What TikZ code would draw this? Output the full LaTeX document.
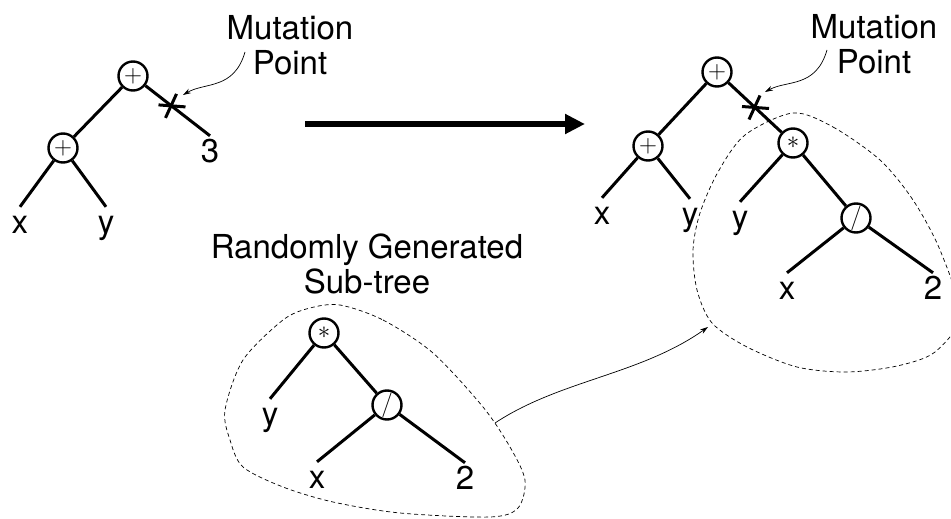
\documentclass[tikz,border=0pt]{standalone}
\usepackage{fontspec}
\setmainfont{TeX Gyre Heros}
\usetikzlibrary{arrows.meta,calc}

\tikzset{
  op/.style={circle,draw,line width=2.4pt,minimum size=29pt,inner sep=0pt,
    font=\fontsize{25}{25}\selectfont},
  leaf/.style={anchor=base,inner sep=0pt,text height=26pt,text depth=0pt},
  edge/.style={line width=3pt},
  blob/.style={line width=0.7pt,dash pattern=on 4pt off 3pt},
  pointer/.style={line width=0.7pt,-{Stealth[length=8pt,width=5pt]}},
}

\begin{document}
\begin{tikzpicture}[x=1pt,y=-1pt,font=\fontsize{33}{35}\selectfont]
  \useasboundingbox (0,0) rectangle (951,519);
  % tree before the mutation
  \node[op] (lroot) at (133,76) {$+$};
  \node[op] (lplus) at (63,148) {$+$};
  \node[leaf] (lx) at (20,233) {x};
  \node[leaf] (ly) at (106,233) {y};
  \node[leaf] (lthree) at (210,162) {3};
  \draw[edge] (lroot) -- (lplus);
  \draw[edge] (lroot) -- (lthree.north);
  \draw[edge] (lplus) -- (lx.north);
  \draw[edge] (lplus) -- (ly.north);
  \coordinate (lcut) at ($(lroot)!0.5!(lthree.north)$);
  \draw[edge] ($(lcut)+(-13,-1)$) -- ($(lcut)+(14,1)$);
  \draw[edge] ($(lcut)+(-6,12)$) -- ($(lcut)+(5,-12)$);
  \node[align=center] (lmut) at (290,45) {Mutation\\Point};
  \coordinate (lmutfrom) at (245,52);
  \coordinate (lmutto) at (183,95);
  \draw[pointer] (lmutfrom) .. controls (234,90) and (205,82) .. (lmutto);

  % mutation arrow
  \coordinate (mfrom) at (305,124);
  \coordinate (mto) at (585,124);
  \draw[line width=6.5pt,-{Triangle[length=20pt,width=19pt]}] (mfrom) -- (mto);

  % tree after the mutation
  \node[op] (rroot) at (717,72) {$+$};
  \node[op] (rplus) at (648,146) {$+$};
  \node[leaf] (rx) at (602,224) {x};
  \node[leaf] (ry) at (690,225) {y};
  \node[op] (rmul) at (793,143) {$\ast$};
  \node[leaf] (ry2) at (740,228) {y};
  \node[op] (rdiv) at (856,218) {$/$};
  \node[leaf] (rx2) at (787,299) {x};
  \node[leaf] (rtwo) at (933,299) {2};
  \draw[edge] (rroot) -- (rplus);
  \draw[edge] (rroot) -- (rmul);
  \draw[edge] (rplus) -- (rx.north);
  \draw[edge] (rplus) -- (ry.north);
  \draw[edge] (rmul) -- (ry2.north);
  \draw[edge] (rmul) -- (rdiv);
  \draw[edge] (rdiv) -- (rx2.north);
  \draw[edge] (rdiv) -- (rtwo.north);
  \coordinate (rcut) at ($(rroot)!0.5!(rmul)$);
  \draw[edge] ($(rcut)+(-13,-1)$) -- ($(rcut)+(14,1)$);
  \draw[edge] ($(rcut)+(-6,12)$) -- ($(rcut)+(5,-12)$);
  \node[align=center] (rmut) at (874,44) {Mutation\\Point};
  \coordinate (rmutfrom) at (827,50);
  \coordinate (rmutto) at (765,92);
  \draw[pointer] (rmutfrom) .. controls (816,88) and (787,80) .. (rmutto);
  \draw[blob] plot[smooth cycle] coordinates {(793,113) (833,127) (880,160)
    (913,200) (940,250) (960,315) (935,352) (897,366) (847,372) (797,367)
    (747,347) (712,323) (697,290) (693,250) (700,213) (718,172) (745,135)};

  % randomly generated sub-tree
  \node[align=center] (stitle) at (367,264) {Randomly Generated\\Sub-tree};
  \node[op] (smul) at (324,333) {$\ast$};
  \node[leaf] (sy) at (270,425) {y};
  \node[op] (sdiv) at (387,405) {$/$};
  \node[leaf] (sx) at (317,488) {x};
  \node[leaf] (stwo) at (465,489) {2};
  \draw[edge] (smul) -- (sy.north);
  \draw[edge] (smul) -- (sdiv);
  \draw[edge] (sdiv) -- (sx.north);
  \draw[edge] (sdiv) -- (stwo.north);
  \draw[blob] plot[smooth cycle] coordinates {(340,305) (383,320) (433,353)
    (483,407) (510,447) (525,480) (518,508) (490,517) (400,513) (333,502)
    (283,487) (243,467) (230,440) (225,410) (243,360) (283,320) (310,308)};
  \coordinate (subout) at (495,423);
  \coordinate (subin) at (708,327);
  \draw[pointer] (subout) .. controls (560,380) and (640,375) .. (subin);
\end{tikzpicture}
\end{document}
